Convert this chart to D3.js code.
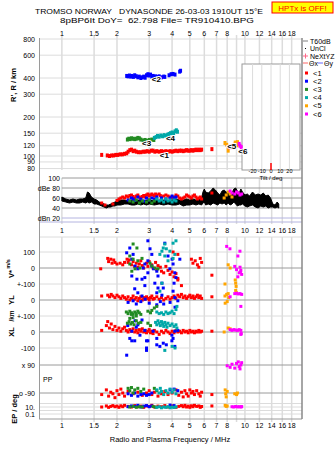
<!DOCTYPE html>
<html>
<head>
<meta charset="utf-8">
<script src="https://cdnjs.cloudflare.com/ajax/libs/d3/7.8.5/d3.min.js"></script>
<style>
body { margin: 0; background: #fff; }
svg text { font-family: "Liberation Sans", Arial, sans-serif; font-size: 7px; fill: #000; }
</style>
</head>
<body>
<svg id="chart" width="335" height="451"></svg>
<script>
// ---- axis ticks ----
const freqTicks = [1, 1.5, 2, 3, 4, 5, 6, 7, 8, 9, 10, 12, 14, 16, 18];
const freqLabels = ['1', '1.5', '2', '3', '4', '5', '6', '7', '8', '', '10', '12', '14', '16', '18'];
const heightTicks = [800, 600, 400, 300, 200, 150, 120, 100, 90, 80];
const ampTicks = [100, 80, 60, 40, 20];
const ampLabels = ['100', 'dBe 80', '60', '40', 'dBn 20'];
const tiltTicks = [-20, -10, 0, 10, 20];
const epTicks = [100, 10, 1, 0.1];

const classNames = ['<1', '<2', '<3', '<4', '<5', '<6'];
const classColors = ['#ff0000', '#0000ff', '#228b22', '#00a8a8', '#ffa500', '#ff00ff'];

// ---- virtual height R' (MHz, km) ----
const h1 = [[1.65,102],[1.77,101],[1.82,100],[1.87,101],[1.92,101],[1.97,102],[2.02,102],[2.08,103],[2.14,103],[2.2,104],[2.26,105],[2.3,108],[2.35,111],[2.4,112],[2.45,109],[2.5,110],[2.55,108],[2.62,107],[2.7,107],[2.78,108],[2.85,108],[2.92,109],[3.0,108],[3.08,110],[3.15,110],[3.22,108],[3.3,109],[3.4,108],[3.5,109],[3.6,108],[3.7,109],[3.8,108],[3.9,109],[4.0,108],[4.1,109],[4.2,110],[4.3,109],[4.4,110],[4.5,110],[4.6,109],[4.7,110],[4.8,111],[4.9,110],[5.0,110],[5.1,111],[5.2,110],[5.3,111],[5.4,112],[5.5,111],[5.6,112],[5.7,111],[5.8,112],[6.6,113]];
const h2 = [[2.26,415],[2.3,412],[2.34,418],[2.38,410],[2.42,415],[2.46,408],[2.5,420],[2.55,413],[2.6,405],[2.65,410],[2.7,400],[2.75,405],[2.8,410],[2.85,402],[2.9,420],[2.95,428],[3.0,418],[3.05,425],[3.1,410],[3.15,415],[3.2,405],[3.25,412],[3.3,400],[3.35,408],[3.4,412],[3.5,405],[3.6,410],[3.65,408],[3.85,420],[3.95,428],[4.05,430],[4.15,425],[4.4,448],[4.45,455]];
const h3 = [[2.28,134],[2.32,136],[2.36,135],[2.4,137],[2.45,136],[2.5,135],[2.55,136],[2.6,138],[2.65,137],[2.7,134],[2.78,132],[2.85,133],[2.92,131],[3.0,133],[3.1,134],[3.18,133]];
const h4 = [[3.2,138],[3.27,140],[3.33,143],[3.4,141],[3.47,144],[3.55,142],[3.62,145],[3.7,143],[3.78,146],[3.85,148],[3.92,150],[4.0,152],[4.08,150],[4.15,155],[4.22,158],[4.28,154]];
const h5 = [[7.78,126],[7.95,122],[8.1,118],[8.1,110],[8.75,122],[8.85,127],[8.95,125],[9.05,121],[9.1,128]];
const h6 = [[8.3,117],[8.6,116],[8.8,121],[9.3,124],[9.4,120],[9.55,117]];
const echoLabels = [[3.43,97,'<1'],[3.1,372,'<2'],[2.74,120,'<3'],[3.7,131,'<4'],[8.0,113,'<5'],[9.2,103,'<6']];

// ---- amplitude (dB) ----
const noise = [[1.0,54,62],[1.05,52,58],[1.1,50,56],[1.15,52,58],[1.2,50,56],[1.25,50,58],[1.3,52,58],[1.35,50,60],[1.38,52,72],[1.41,50,70],[1.45,52,62],[1.5,48,58],[1.55,48,56],[1.6,46,52],[1.65,44,50],[1.7,42,48],[1.75,40,46],[1.8,42,46],[1.85,42,48],[1.9,44,50],[1.95,44,52],[2.0,46,54],[2.1,46,56],[2.2,48,56],[2.3,48,54],[2.4,46,56],[2.5,46,54],[2.6,48,56],[2.7,46,56],[2.8,48,54],[2.9,46,56],[3.0,48,56],[3.2,46,54],[3.4,48,56],[3.6,46,56],[3.8,48,54],[4.0,46,56],[4.2,46,58],[4.4,48,56],[4.6,44,56],[4.8,46,58],[5.0,46,56],[5.2,48,58],[5.4,46,56],[5.6,48,58],[5.8,46,60],[5.9,50,72],[6.0,52,78],[6.1,46,72],[6.3,48,70],[6.5,46,74],[6.7,50,80],[6.9,48,76],[7.1,46,70],[7.3,50,66],[7.5,48,74],[7.7,50,76],[7.9,46,72],[8.1,50,70],[8.3,46,64],[8.5,48,70],[8.7,52,78],[8.9,48,80],[9.1,44,74],[9.3,46,70],[9.5,46,78],[9.7,48,72],[10.0,44,66],[10.3,42,68],[10.6,44,64],[11.0,46,72],[11.4,42,66],[11.8,40,68],[12.2,44,66],[12.6,42,70],[13.0,44,64],[13.4,40,66],[13.8,42,60],[14.2,42,48],[14.6,40,46],[15.0,42,52],[15.3,40,48]];
const a1 = [[1.65,50],[1.72,46],[1.9,48],[2.0,55],[2.05,58],[2.1,60],[2.15,62],[2.2,60],[2.25,64],[2.3,62],[2.35,65],[2.4,66],[2.45,63],[2.5,60],[2.55,64],[2.6,66],[2.65,62],[2.7,60],[2.75,63],[2.8,65],[2.85,62],[2.9,66],[2.95,68],[3.0,64],[3.05,66],[3.1,68],[3.15,66],[3.2,64],[3.25,68],[3.3,66],[3.4,68],[3.45,65],[3.5,62],[3.6,64],[3.7,66],[3.8,64],[3.9,62],[4.0,60],[4.1,62],[4.2,66],[4.3,64],[4.4,60],[4.5,58],[4.6,60],[4.7,62],[4.8,66],[4.9,64],[5.0,62],[5.1,60],[5.2,64],[5.3,66],[5.4,62],[5.5,58],[5.6,60],[5.7,62],[5.8,58],[6.6,70]];
const a2 = [[2.3,56],[2.4,60],[2.45,58],[2.5,55],[2.6,62],[2.7,58],[2.8,54],[2.9,60],[3.0,56],[3.1,60],[3.2,58],[3.3,62],[3.5,60],[3.7,58],[3.9,60],[4.0,64],[4.1,60],[4.2,62]];
const a3 = [[2.35,54],[2.45,52],[2.55,56],[2.65,50],[2.75,54],[2.9,52],[3.0,56],[3.1,50],[3.2,54]];
const a4 = [[3.3,58],[3.4,54],[3.5,56],[3.6,52],[3.7,58],[3.8,54],[3.9,56],[4.0,52],[4.1,56],[4.2,54]];
const a5 = [[7.7,60],[7.9,66],[8.1,72],[8.3,68],[8.5,62]];
const a6 = [[8.3,74],[8.5,70],[8.8,68],[9.0,72],[9.2,70],[9.4,66],[9.6,68]];

// ---- V* (m/s) ----
const v1 = [[1.63,-5],[1.78,60],[1.85,55],[1.92,50],[1.8,40],[1.88,30],[1.95,35],[2.0,25],[2.08,30],[2.15,20],[2.2,35],[2.27,55],[2.33,50],[2.3,35],[2.4,20],[2.45,40],[2.5,10],[2.55,30],[2.6,5],[2.65,25],[2.7,45],[2.75,15],[2.8,0],[2.9,30],[2.95,10],[3.0,40],[3.1,20],[3.15,0],[3.25,35],[3.35,15],[3.45,5],[3.3,-10],[3.5,-20],[3.6,-30],[3.7,10],[3.8,-15],[3.9,-40],[4.0,-25],[4.1,-55],[4.2,-35],[4.3,-65],[4.05,100],[4.3,85],[4.3,-75],[4.5,-110],[5.1,55],[5.2,30],[5.35,45],[5.5,20],[5.6,5],[5.8,35],[5.7,60],[6.6,-45]];
const v2 = [[2.26,95],[2.35,125],[2.41,55],[2.45,85],[2.51,12],[2.6,-5],[2.41,-50],[2.57,-70],[2.74,-70],[2.84,-110],[2.5,-130],[2.6,-155],[2.74,-175],[2.95,170],[3.03,120],[2.95,45],[3.1,85],[3.1,12],[3.17,-5],[2.95,-30],[2.84,-60],[3.3,-20],[3.35,-50],[3.22,-95],[3.35,-125],[3.3,-155],[3.52,-170],[3.65,155],[3.8,75],[4.0,55],[4.05,25],[3.89,-5],[4.14,-30],[4.2,-60],[4.1,-95],[4.05,-145],[4.14,-185],[4.41,55],[2.84,25],[2.78,0],[3.52,-95],[3.58,-125]];
const v3 = [[2.45,150],[2.57,125],[2.35,75],[2.45,55],[2.6,45],[2.74,60],[2.35,25],[2.51,-5],[2.67,0],[2.41,-20],[3.1,12],[3.22,0],[3.35,-5],[3.03,30]];
const v4 = [[3.52,105],[3.58,125],[3.65,150],[3.72,120],[3.43,85],[3.65,75],[3.89,105],[4.05,155],[4.14,85],[4.05,60],[4.2,170],[3.8,45],[3.52,-95],[3.43,-145]];
const v5 = [[8.1,20],[8.3,0],[7.78,-100],[8.85,-75],[8.9,-95],[8.95,-115],[8.9,-140],[9.0,-155]];
const v6 = [[7.95,135],[8.28,120],[9.15,75],[9.39,105],[9.4,5],[9.5,-15],[9.6,-40],[9.45,-25],[9.15,-55],[8.8,10],[9.0,-10],[9.3,-30]];

// ---- YL (km) ----
const yl1 = [[1.65,25],[1.78,30],[1.82,20],[1.86,35],[1.9,25],[1.95,15],[2.0,30],[2.05,20],[2.1,10],[2.15,25],[2.2,15],[2.25,5],[2.3,20],[2.35,0],[2.4,10],[2.45,25],[2.5,5],[2.55,15],[2.6,-5],[2.65,10],[2.7,20],[2.75,0],[2.8,15],[2.85,5],[2.9,20],[2.95,10],[3.0,0],[3.05,15],[3.1,25],[3.15,5],[3.2,10],[3.3,20],[3.4,5],[3.5,15],[3.6,0],[3.7,10],[3.8,20],[3.9,5],[4.0,15],[4.1,25],[4.2,10],[4.3,30],[4.4,20],[4.5,35],[4.6,15],[4.7,25],[4.8,10],[4.9,20],[5.0,30],[5.1,15],[5.2,25],[5.3,10],[5.4,20],[5.5,30],[5.6,15],[5.7,25],[5.8,10],[6.6,20]];
const yl2 = [[2.3,-15],[2.45,-5],[2.55,-25],[2.7,-10],[2.85,5],[3.0,-20],[3.3,-30],[3.45,-10],[3.6,-25],[3.9,-15],[4.15,-45],[4.3,-5]];
const yl3 = [[2.25,-75],[2.3,-85],[2.35,-70],[2.4,-80],[2.45,-90],[2.5,-75],[2.55,-85],[2.6,-70],[2.65,-80],[2.7,-90],[2.95,-70],[3.05,-80],[3.1,-65],[3.2,-50],[3.3,-40]];
const yl4 = [[3.3,-75],[3.4,-85],[3.5,-80],[3.6,-90],[3.7,-75],[3.8,-85],[3.9,-80],[4.0,-70],[4.1,-85],[4.2,-60],[4.25,-40]];
const yl5 = [[7.78,25],[7.95,35],[8.1,40],[7.8,-20],[8.0,-10],[8.15,15]];
const yl6 = [[8.3,20],[8.8,40],[9.0,42],[9.2,38],[9.4,40],[9.6,35],[9.5,-40]];

// ---- XL (km) ----
const xl1 = [[1.65,10],[1.75,40],[1.78,65],[1.82,25],[1.86,50],[1.9,15],[1.95,35],[2.0,10],[2.05,25],[2.1,5],[2.15,20],[2.2,30],[2.25,10],[2.3,0],[2.35,15],[2.4,5],[2.45,20],[2.5,0],[2.55,10],[2.6,-5],[2.65,15],[2.7,5],[2.75,20],[2.8,0],[2.85,10],[2.9,-5],[2.95,5],[3.0,15],[3.05,-5],[3.1,5],[3.15,-10],[3.2,10],[3.3,0],[3.4,-15],[3.5,5],[3.6,-5],[3.7,10],[3.8,0],[3.9,-10],[4.0,5],[4.1,-5],[4.2,10],[4.3,0],[4.4,5],[4.5,-5],[4.6,10],[4.7,0],[4.8,5],[4.9,-5],[5.0,10],[5.1,0],[5.2,5],[5.3,-5],[5.4,5],[5.5,0],[5.6,10],[5.7,0],[5.8,5],[6.6,5]];
const xl2 = [[2.29,40],[2.41,5],[2.35,-40],[2.41,-55],[2.5,-55],[2.26,-145],[2.6,45],[2.55,30],[2.67,-20],[2.84,10],[2.9,-55],[2.95,-55],[2.9,-100],[2.9,-115],[3.15,5],[3.3,-40],[3.3,-80],[3.43,-90],[3.58,-70],[3.72,-80],[3.99,-20],[4.05,-40],[3.99,-55],[4.14,5],[4.3,10],[4.14,-90],[2.51,70],[2.74,75]];
const xl3 = [[2.28,55],[2.33,65],[2.38,50],[2.43,60],[2.48,45],[2.55,70],[2.62,55],[2.7,60],[2.35,85],[2.45,90],[2.95,55],[3.05,40],[2.4,110],[2.55,100]];
const xl4 = [[3.25,60],[3.3,45],[3.35,70],[3.4,55],[3.45,40],[3.5,65],[3.55,50],[3.6,35],[3.65,60],[3.7,45],[3.75,30],[3.8,55],[3.9,40],[4.0,50],[4.1,35],[4.2,45],[4.25,25],[3.65,-115],[4.0,-90],[4.15,-100]];
const xl5 = [[8.1,25],[8.3,20],[7.7,0]];
const xl6 = [[8.3,15],[8.5,10],[8.7,15],[8.9,12],[9.1,10],[9.3,15],[9.5,10],[9.55,-10],[9.5,-15]];

// ---- polarization PP (deg) ----
const pp1 = [[1.65,-100],[1.75,-70],[1.8,-110],[1.85,-85],[1.9,-95],[1.95,-120],[2.0,-75],[2.05,-100],[2.1,-65],[2.15,-90],[2.2,-110],[2.3,-80],[2.45,-95],[2.6,-85],[2.75,-105],[2.9,-90],[3.0,-75],[3.1,-100],[3.2,-85],[3.35,-110],[3.5,-95],[3.65,-80],[3.8,-100],[4.0,-90],[4.2,-70],[4.35,-105],[4.5,-85],[4.6,-115],[4.7,-75],[4.8,-95],[4.9,-110],[5.0,-70],[5.1,-90],[5.2,-80],[5.3,-100],[5.45,-75],[5.6,-95],[5.7,-110],[5.8,-85],[6.6,-100]];
const pp2 = [[2.3,-95],[2.4,-105],[2.5,-90],[2.6,-110],[2.7,-100],[2.8,-95],[2.9,-105],[3.0,-100],[3.1,-90],[3.9,-70],[4.1,-65],[4.3,-75]];
const pp3 = [[2.3,-60],[2.35,-75],[2.4,-55],[2.45,-90],[2.5,-70],[2.6,-60],[2.7,-80],[2.8,-65],[3.2,-60],[3.3,-75]];
const pp4 = [[3.3,-70],[3.4,-90],[3.45,-60],[3.5,-80],[3.6,-100],[3.7,-75],[3.8,-90],[3.9,-65],[4.0,-85],[4.1,-70],[4.2,-95]];
const pp5 = [[7.8,-70],[7.85,-95],[7.9,-115],[8.0,-80],[8.8,-95],[9.0,-100],[9.1,-90]];
const pp6 = [[8.0,85],[8.3,75],[8.5,95],[8.8,70],[9.0,100],[9.2,110],[9.3,80],[9.4,65],[9.5,90],[9.6,105]];

// ---- EP (deg) ----
const ep1 = [[1.65,10],[1.75,20],[1.8,8],[1.85,15],[1.9,25],[1.95,12],[2.0,18],[2.05,8],[2.1,22],[2.15,12],[2.2,30],[2.3,15],[2.4,10],[2.5,25],[2.6,12],[2.7,18],[2.8,8],[2.9,20],[3.0,14],[3.1,30],[3.2,10],[3.35,18],[3.5,12],[3.65,25],[3.8,10],[4.0,20],[4.2,8],[4.35,15],[4.5,25],[4.6,12],[4.7,30],[4.8,10],[4.9,18],[5.0,8],[5.1,22],[5.2,12],[5.3,30],[5.45,15],[5.6,20],[5.7,8],[5.8,14],[6.6,20]];
const ep2 = [[2.3,12],[2.4,20],[2.5,15],[2.6,30],[2.7,10],[2.8,18],[2.9,25],[3.0,12],[3.1,20],[3.9,35],[4.1,25]];
const ep3 = [[2.35,10],[2.45,15],[2.55,8],[2.65,12],[2.75,10],[3.15,14],[3.25,9]];
const ep4 = [[3.3,8],[3.4,12],[3.5,6],[3.6,10],[3.7,8],[3.8,12],[3.9,6],[4.0,9],[4.1,7],[4.2,11]];
const ep5 = [[7.8,30],[7.9,15],[8.0,20]];
const ep6 = [[8.5,12],[8.7,10],[8.9,14],[9.1,11],[9.3,12],[9.5,10],[9.6,13]];

const tiltX = [0];

// ---- scales ----
const svg = d3.select('#chart');
const L = 39, R = 302;
const x = d3.scaleLog().domain([0.75, 20.5]).range([L, R]);
const yH = d3.scaleLog().domain([78, 800]).range([170, 39]);
const yA = d3.scaleLinear().domain([20, 100]).range([218, 178]);
const yV = d3.scaleLinear().domain([-100, 100]).range([284, 252]);
const yYL = d3.scaleLinear().domain([-100, 100]).range([316, 284]);
const yXL = d3.scaleLinear().domain([-100, 100]).range([348, 316]);
const yPP = d3.scaleLinear().domain([-90, 90]).range([393, 365]);
const yEP = d3.scaleLog().domain([0.1, 10]).range([414, 407]);
const xT = d3.scaleLinear().domain([-31.5, 31.5]).range([242, 300]);

const LIGHT = '#dcdcdc', DARK = '#9a9a9a';

function hline(g, y, x1, x2, color, w) {
	g.append('line')
		.attr('x1', x1).attr('x2', x2)
		.attr('y1', y).attr('y2', y)
		.attr('stroke', color)
		.attr('stroke-width', w || 1);
}

function label(g, tx, ty, str, anchor, size) {
	return g.append('text')
		.attr('x', tx).attr('y', ty)
		.attr('text-anchor', anchor || 'end')
		.attr('dominant-baseline', 'central')
		.style('font-size', (size || 7) + 'px')
		.text(str);
}

function dots(g, data, ys, color, w, h) {
	w = w || 3; h = h || 3;
	g.selectAll(null).data(data).enter().append('rect')
		.attr('x', d => x(d[0]) - w / 2)
		.attr('y', d => ys(d[1]) - h / 2)
		.attr('width', w)
		.attr('height', h)
		.attr('fill', color);
}

// ---- grid ----
const grid = svg.append('g');
[[35, 170], [178, 224], [237, 422]].forEach(([t, b]) => {
	grid.selectAll(null).data(freqTicks).enter().append('line')
		.attr('x1', d => x(d)).attr('x2', d => x(d))
		.attr('y1', t).attr('y2', b)
		.attr('stroke', LIGHT)
		.attr('stroke-width', 1.5);
});
heightTicks.forEach(t => hline(grid, yH(t), L, R, LIGHT));
ampTicks.forEach(t => hline(grid, yA(t), x(1), R, t == 20 ? '#b4b4e0' : DARK));
hline(grid, 222, L, R, '#b4b4e0');
hline(grid, 237, L, R, LIGHT);
[100, -100].forEach(t => { hline(grid, yV(t), L, R, LIGHT); hline(grid, yXL(t), L, R, LIGHT); });
hline(grid, yV(0), L, R, DARK);
hline(grid, yYL(0), L, R, DARK);
hline(grid, yXL(0), L, R, DARK);
hline(grid, yPP(90), L, R, DARK);
hline(grid, yPP(-90), L, R, DARK);
epTicks.forEach(t => hline(grid, yEP(t), L, R, LIGHT));
hline(grid, 419, L, R, DARK);
// frame
grid.append('line').attr('x1', L + 0.5).attr('x2', L + 0.5).attr('y1', 38).attr('y2', 419).attr('stroke', DARK);
grid.append('line').attr('x1', R).attr('x2', R).attr('y1', 38).attr('y2', 419).attr('stroke', '#888').attr('stroke-width', 1.5);

// ---- tilt inset ----
const tilt = svg.append('g');
tilt.append('rect')
	.attr('x', xT(-31.5)).attr('y', 64)
	.attr('width', xT(31.5) - xT(-31.5)).attr('height', 106)
	.attr('fill', '#fff').attr('stroke', DARK);
tilt.selectAll(null).data(tiltTicks).enter().append('line')
	.attr('x1', d => xT(d)).attr('x2', d => xT(d))
	.attr('y1', 64).attr('y2', 170)
	.attr('stroke', LIGHT);
tilt.selectAll(null).data(tiltTicks).enter().append('text')
	.attr('x', d => xT(d)).attr('y', 172.5)
	.attr('text-anchor', 'middle')
	.style('font-size', '5.5px')
	.text(d => d);
label(tilt, xT(0), 178, 'Tilt / deg', 'middle', 6);
tilt.selectAll(null).data(tiltX).enter().append('line')
	.attr('x1', d => xT(d)).attr('x2', d => xT(d))
	.attr('y1', 163).attr('y2', 170)
	.attr('stroke', '#ff0000').attr('stroke-width', 1.5);

// ---- amplitude noise ----
svg.append('path')
	.datum(noise)
	.attr('d', d3.area().x(d => x(d[0])).y0(d => yA(d[1])).y1(d => yA(d[2])))
	.attr('fill', '#000')
	.attr('stroke', '#000')
	.attr('stroke-width', 1);

// ---- echo classes ----
const series = [
	[h1, a1, v1, yl1, xl1, pp1, ep1],
	[h2, a2, v2, yl2, xl2, pp2, ep2],
	[h3, a3, v3, yl3, xl3, pp3, ep3],
	[h4, a4, v4, yl4, xl4, pp4, ep4],
	[h5, a5, v5, yl5, xl5, pp5, ep5],
	[h6, a6, v6, yl6, xl6, pp6, ep6]
];
const panelScales = [yH, yA, yV, yYL, yXL, yPP, yEP];
const pts = svg.append('g');
series.forEach((s, i) => {
	s.forEach((data, j) => {
		dots(pts, data, panelScales[j], classColors[i], 3, j == 0 ? 4 : 3);
	});
});

// echo labels
svg.append('g').selectAll(null).data(echoLabels).enter().append('text')
	.attr('x', d => x(d[0])).attr('y', d => yH(d[1]))
	.style('font-size', '8px')
	.style('font-weight', 'bold')
	.attr('stroke', '#fff').attr('stroke-width', 2)
	.attr('paint-order', 'stroke')
	.text(d => d[2]);

// ---- axis labels ----
const ax = svg.append('g');
[33, 230, 425].forEach(ty => {
	ax.selectAll(null).data(freqTicks).enter().append('text')
		.attr('x', d => x(d)).attr('y', ty)
		.attr('text-anchor', 'middle')
		.attr('dominant-baseline', 'central')
		.text((d, i) => freqLabels[i]);
});
heightTicks.forEach(t => label(ax, 35, yH(t), t));
ampTicks.forEach((t, i) => label(ax, 60, yA(t), ampLabels[i]));
label(ax, 35, yV(100), '100');
label(ax, 35, yV(0), '0');
label(ax, 35, yYL(100), '+-100');
label(ax, 35, yYL(0), '0');
label(ax, 35, yXL(100), '+-100');
label(ax, 35, yXL(0), '0');
label(ax, 35, yXL(-100), '-100');
label(ax, 35, yPP(90), 'x 90');
label(ax, 43, (yPP(90) + yPP(-90)) / 2, 'PP', 'start');
label(ax, 35, yPP(-90), 'o -90');
label(ax, 35, yEP(10), '10.');
label(ax, 35, yEP(0.1), '0.1');

function vlabel(tx, ty, str, size) {
	ax.append('text')
		.attr('transform', `translate(${tx},${ty}) rotate(-90)`)
		.attr('text-anchor', 'middle')
		.attr('dominant-baseline', 'central')
		.style('font-size', (size || 7.5) + 'px')
		.style('font-weight', 'bold')
		.text(str);
}
vlabel(13, 85, "R', R / km");
vlabel(11, 274, 'V*');
vlabel(8, 264, 'm/s', 5.5);
vlabel(11, 300, 'YL');
vlabel(11, 316, '/km', 6.5);
vlabel(11, 332, 'XL');
vlabel(14, 409, 'EP / deg');

ax.append('text')
	.attr('x', 170).attr('y', 439)
	.attr('text-anchor', 'middle')
	.attr('dominant-baseline', 'central')
	.style('font-size', '7.5px')
	.text('Radio and Plasma Frequency / MHz');

// ---- title ----
const head = svg.append('g');
head.append('text')
	.attr('x', 35).attr('y', 14)
	.attr('xml:space', 'preserve')
	.attr('textLength', 228).attr('lengthAdjust', 'spacingAndGlyphs')
	.style('font-size', '8px')
	.text('TROMSO NORWAY   DYNASONDE 26-03-03 1910UT 15°E');
head.append('text')
	.attr('x', 60).attr('y', 23)
	.attr('xml:space', 'preserve')
	.attr('textLength', 194).attr('lengthAdjust', 'spacingAndGlyphs')
	.style('font-size', '8px')
	.text('8pBP6It DoY=  62.798 File= TR910410.BPG');
head.append('rect')
	.attr('x', 272).attr('y', 2).attr('width', 61).attr('height', 11)
	.attr('fill', '#ffff00').attr('stroke', '#ff0000');
head.append('text')
	.attr('x', 302.5).attr('y', 8)
	.attr('text-anchor', 'middle')
	.attr('dominant-baseline', 'central')
	.style('font-size', '8px')
	.style('fill', '#ff0000')
	.text('HPTx is OFF!');

// ---- legend ----
const leg = svg.append('g');
hline(leg, 41, 303, 308, '#aaa', 1.5);
label(leg, 310, 41, 'T60dB', 'start');
leg.append('rect').attr('x', 305).attr('y', 48).attr('width', 1).attr('height', 1).attr('fill', '#000');
label(leg, 310, 48.5, 'UnCl', 'start');
hline(leg, 56, 303, 308, '#ff6688');
leg.append('line').attr('x1', 305.5).attr('x2', 305.5).attr('y1', 53.5).attr('y2', 58.5).attr('stroke', '#ff6688');
label(leg, 310, 56, 'NeXtYZ', 'start');
hline(leg, 63, 303, 308, '#ff6666');
label(leg, 309, 63, 'Θx', 'start');
hline(leg, 63, 318, 323, '#6666ff');
label(leg, 324, 63, 'Θy', 'start');
classNames.forEach((c, i) => {
	const ly = 73 + i * 8.2;
	leg.append('rect').attr('x', 305).attr('y', ly - 1.5).attr('width', 3).attr('height', 3).attr('fill', classColors[i]);
	label(leg, 313, ly, c, 'start', 7.5);
});
</script>
</body>
</html>
